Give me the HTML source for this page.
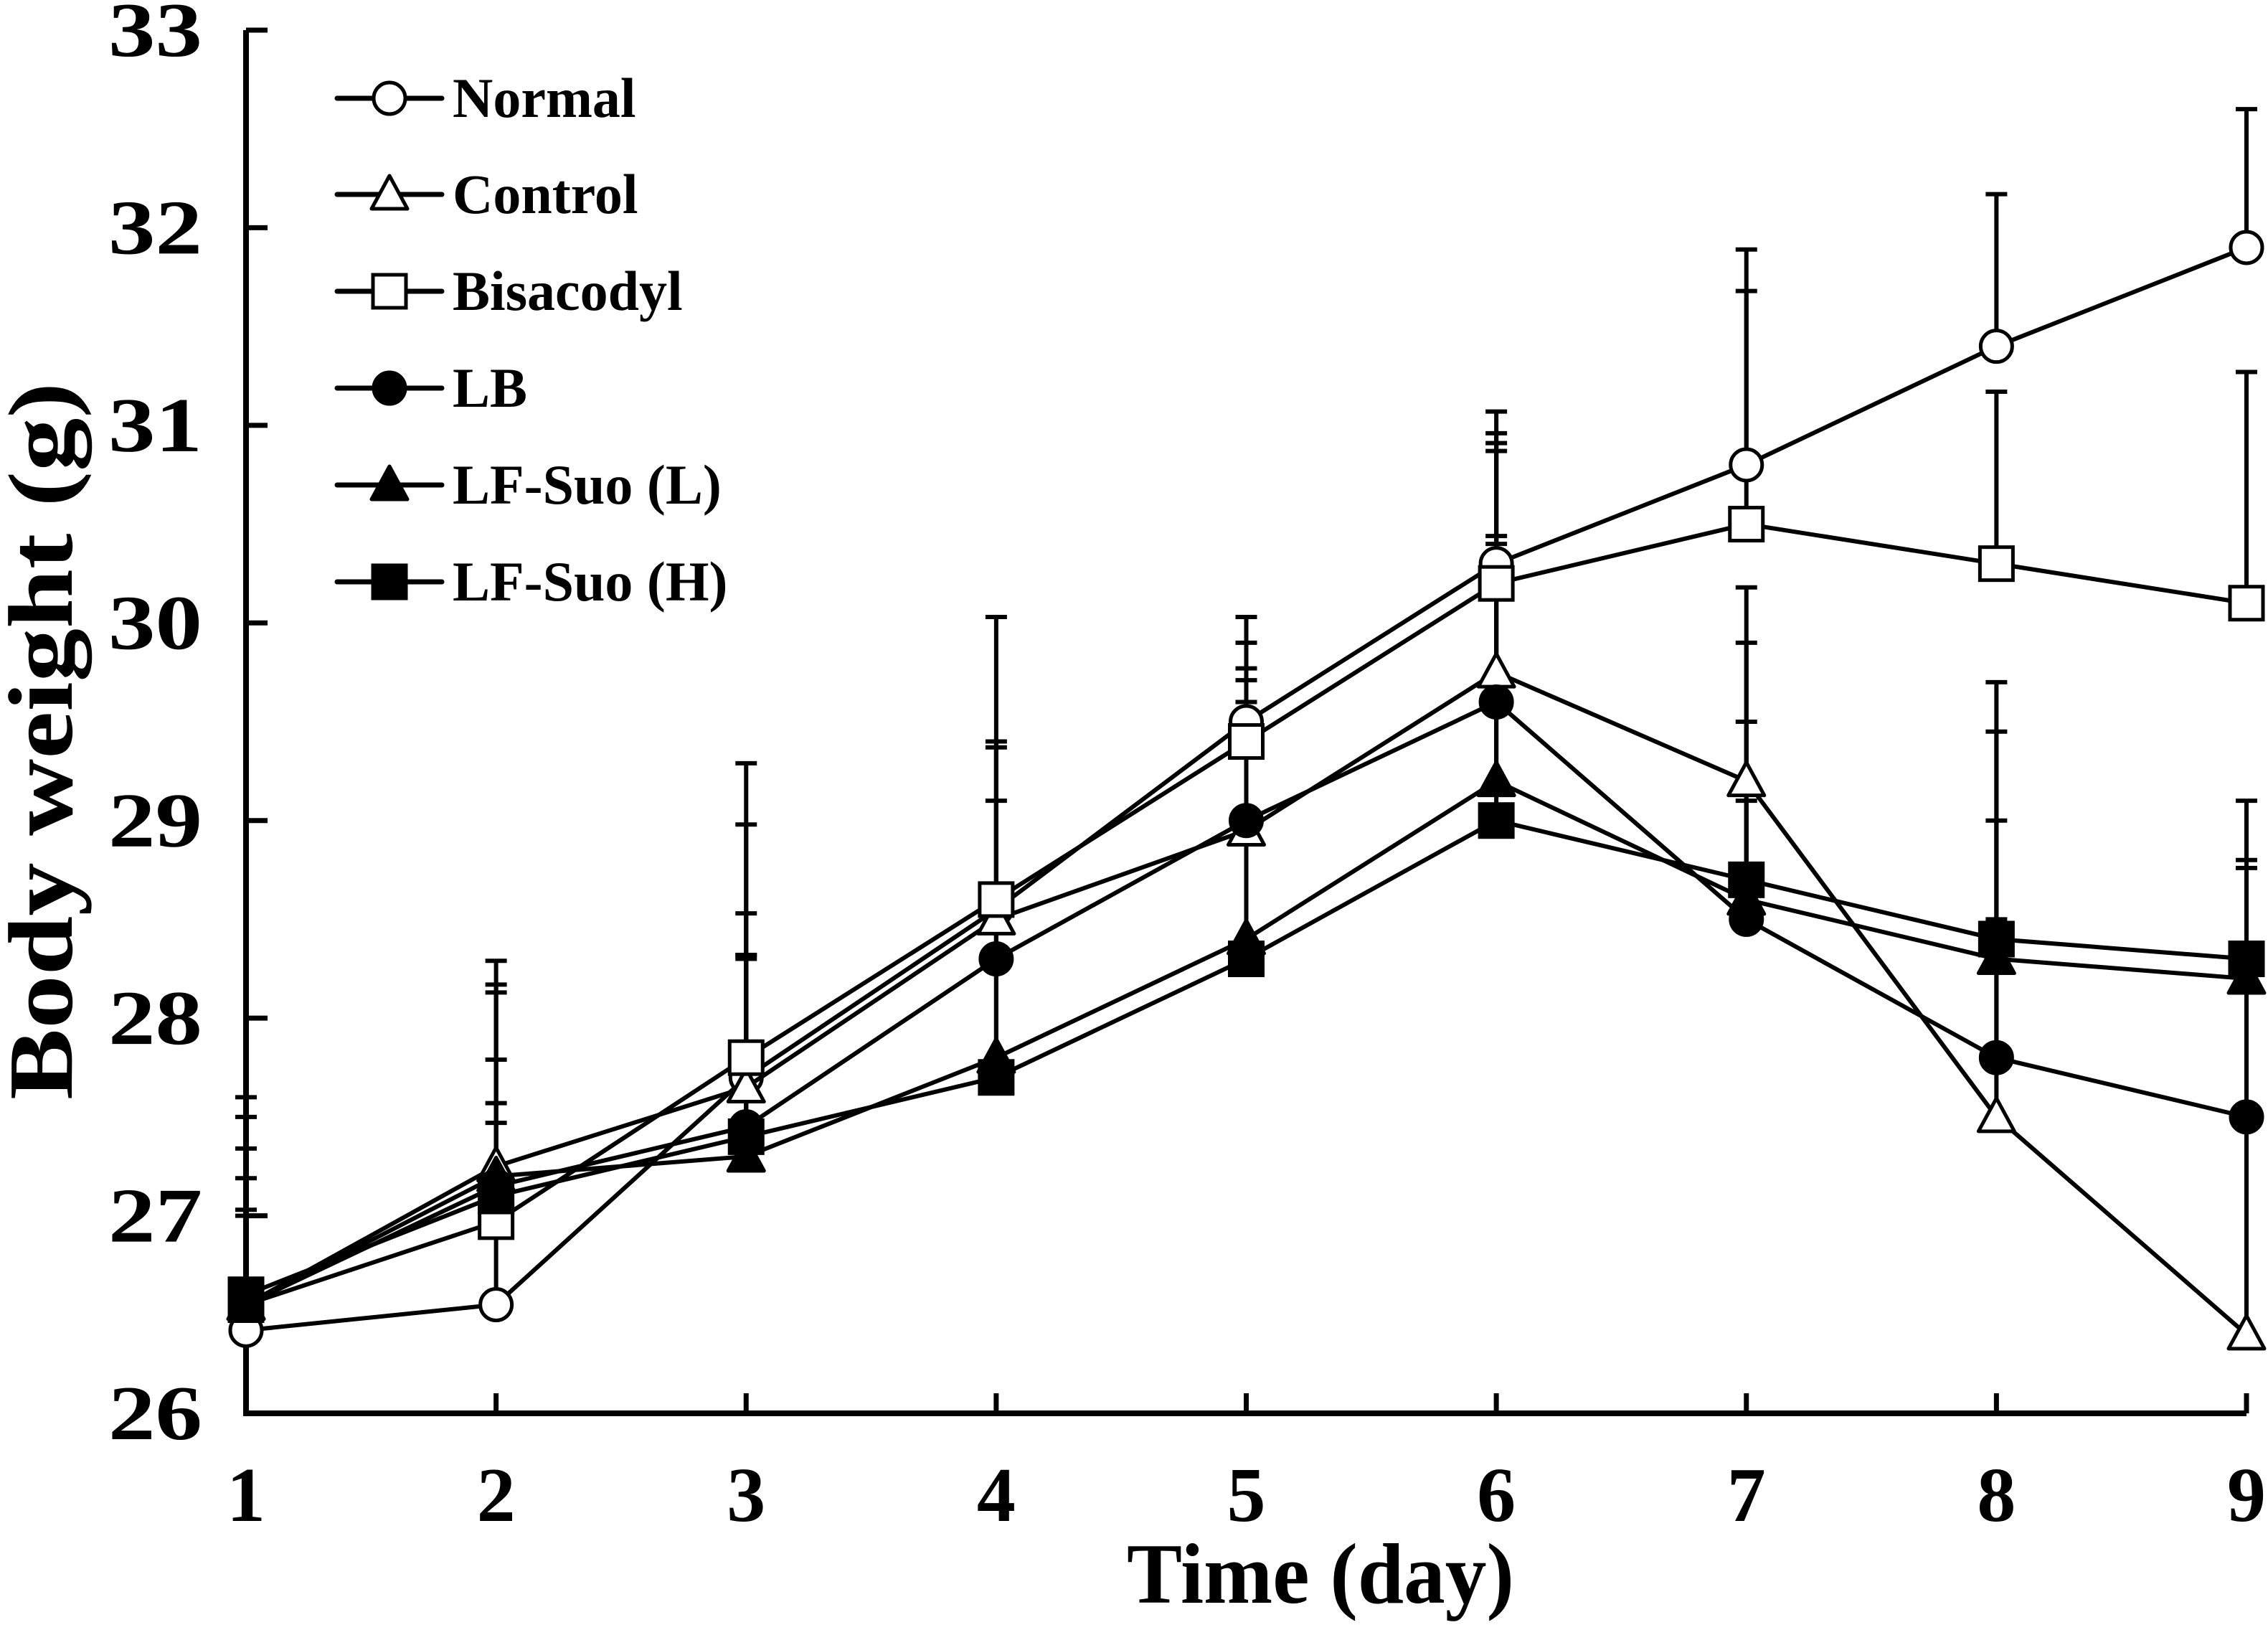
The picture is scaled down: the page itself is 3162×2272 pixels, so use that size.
<!DOCTYPE html>
<html><head><meta charset="utf-8"><style>
html,body{margin:0;padding:0;background:#fff}
svg{display:block}
text{font-family:"Liberation Serif",serif;font-weight:bold;fill:#000}
</style></head><body>
<svg id="chart" width="3162" height="2272" viewBox="0 0 3162 2272" xmlns="http://www.w3.org/2000/svg">
<g id="axes"></g>
<g id="bars"></g>
<g id="lines"></g>
<g id="legend"></g>
<text x="1841" y="2234" font-size="120" text-anchor="middle" textLength="540" lengthAdjust="spacingAndGlyphs">Time (day)</text>
<text x="0" y="0" font-size="128" text-anchor="middle" textLength="1000" lengthAdjust="spacingAndGlyphs" transform="translate(100,1033) rotate(-90)">Body weight (g)</text>
</svg>
<script>
const days = [1,2,3,4,5,6,7,8,9];
const yTicks = [26,27,28,29,30,31,32,33];
const seriesNames = ["Normal","Control","Bisacodyl","LB","LF-Suo (L)","LF-Suo (H)"];
const normalVals = [26.42,26.55,27.7,28.55,29.5,30.3,30.8,31.4,31.9];
const controlVals = [26.55,27.25,27.65,28.5,28.95,29.75,29.2,27.5,26.4];
const bisacodylVals = [26.55,26.97,27.8,28.6,29.4,30.2,30.5,30.3,30.1];
const lbVals = [26.55,27.15,27.45,28.3,29.0,29.6,28.5,27.8,27.5];
const lfLVals = [26.55,27.2,27.3,27.8,28.4,29.2,28.6,28.3,28.2];
const lfHVals = [26.6,27.1,27.4,27.7,28.3,29.0,28.7,28.4,28.3];
const normalUpper = [27.6,27.47,29.29,30.03,30.03,31.07,31.89,32.17,32.6];
const controlUpper = [27.5,28.29,28.98,29.4,29.77,30.91,30.18,28.5,27.5];
const bisacodylUpper = [27.34,28.17,28.53,29.37,29.9,30.96,31.68,31.17,31.27];
const lbUpper = [27.03,28.13,28.32,29.1,29.71,30.87,29.5,29.0,28.76];
const lfLUpper = [27.19,27.79,28.32,28.5,29.6,30.44,29.9,29.45,28.8];
const lfHUpper = [27.0,27.57,28.3,28.5,29.5,30.4,29.1,29.7,29.1];

const NS="http://www.w3.org/2000/svg";
const X0=343, X1=3132, Y0=1970, Y1=42;
const xS = d => X0 + (d-1)*(X1-X0)/8;
const yS = v => Y0 - (v-26)*(Y0-Y1)/7;
function mk(tag, attrs, parent){const e=document.createElementNS(NS,tag);for(const k in attrs)e.setAttribute(k,attrs[k]);parent.appendChild(e);return e;}

const axes=document.getElementById('axes');
let el=mk('polyline',{points:`${X0},${Y1} ${X0},${Y0} ${X1},${Y0}`,fill:'none',stroke:'#000','stroke-width':8},axes);


yTicks.forEach(t=>{
  const y=yS(t);
  const tk=mk('line',{x1:X0,x2:X0+30,y1:y,y2:y,stroke:'#000','stroke-width':7},axes);
  
  
  const lb=mk('text',{x:282,y:y+36,'font-size':108,'text-anchor':'end',textLength:131,lengthAdjust:'spacingAndGlyphs'},axes);
  lb.textContent=t;
  
  
});
days.forEach(d=>{
  const x=xS(d);
  const tk=mk('line',{x1:x,x2:x,y1:Y0,y2:Y0-28,stroke:'#000','stroke-width':7},axes);
  
  
  const lb=mk('text',{x:x,y:2120,'font-size':108,'text-anchor':'middle'},axes);
  lb.textContent=d;
  
  
});

const vals=[normalVals,controlVals,bisacodylVals,lbVals,lfLVals,lfHVals];
const ups=[normalUpper,controlUpper,bisacodylUpper,lbUpper,lfLUpper,lfHUpper];
const shapes=['circle','triangle','square','circle','triangle','square'];
const fills=['#fff','#fff','#fff','#000','#000','#000'];
const slugs=['normal','control','bisacodyl','lb','lf-suo-l','lf-suo-h'];

function marker(shape,fill,x,y,parent,name){
  let m;
  if(shape==='circle') m=mk('circle',{cx:x,cy:y,r:22,fill:fill,stroke:'#000','stroke-width':5},parent);
  else if(shape==='square') m=mk('rect',{x:x-23,y:y-23,width:46,height:46,fill:fill,stroke:'#000','stroke-width':5},parent);
  else m=mk('polygon',{points:`${x},${y-26} ${x+25},${y+20} ${x-25},${y+20}`,fill:fill,stroke:'#000','stroke-width':5,'stroke-linejoin':'round'},parent);
  
  
}

const bars=document.getElementById('bars');
ups.forEach((u,i)=>{
  days.forEach((d,j)=>{
    const x=xS(d);
    const b=mk('path',{d:`M${x},${yS(vals[i][j])}V${yS(u[j])}M${x-15},${yS(u[j])}H${x+15}`,stroke:'#000','stroke-width':6,fill:'none'},bars);
    
    
  });
});
const lines=document.getElementById('lines');
vals.forEach((v,i)=>{
  const g=mk('g',{},lines);
  
  
  const pl=mk('polyline',{points:days.map((d,j)=>xS(d)+','+yS(v[j])).join(' '),fill:'none',stroke:'#000','stroke-width':6},g);
  
  
  days.forEach((d,j)=>marker(shapes[i],fills[i],xS(d),yS(v[j]),g,'point-'+slugs[i]));
});

const legend=document.getElementById('legend');
const legY=[137,271,406,541,676,811];
seriesNames.forEach((n,i)=>{
  const g=mk('g',{},legend);
  
  
  const ln=mk('line',{x1:470,x2:616,y1:legY[i],y2:legY[i],stroke:'#000','stroke-width':7,'stroke-linecap':'round'},g);
  
  
  marker(shapes[i],fills[i],543,legY[i],g,'legend-marker');
  const t=mk('text',{x:631,y:legY[i]+26,'font-size':78},g);
  t.textContent=n;
  
  
});
</script>
</body></html>
